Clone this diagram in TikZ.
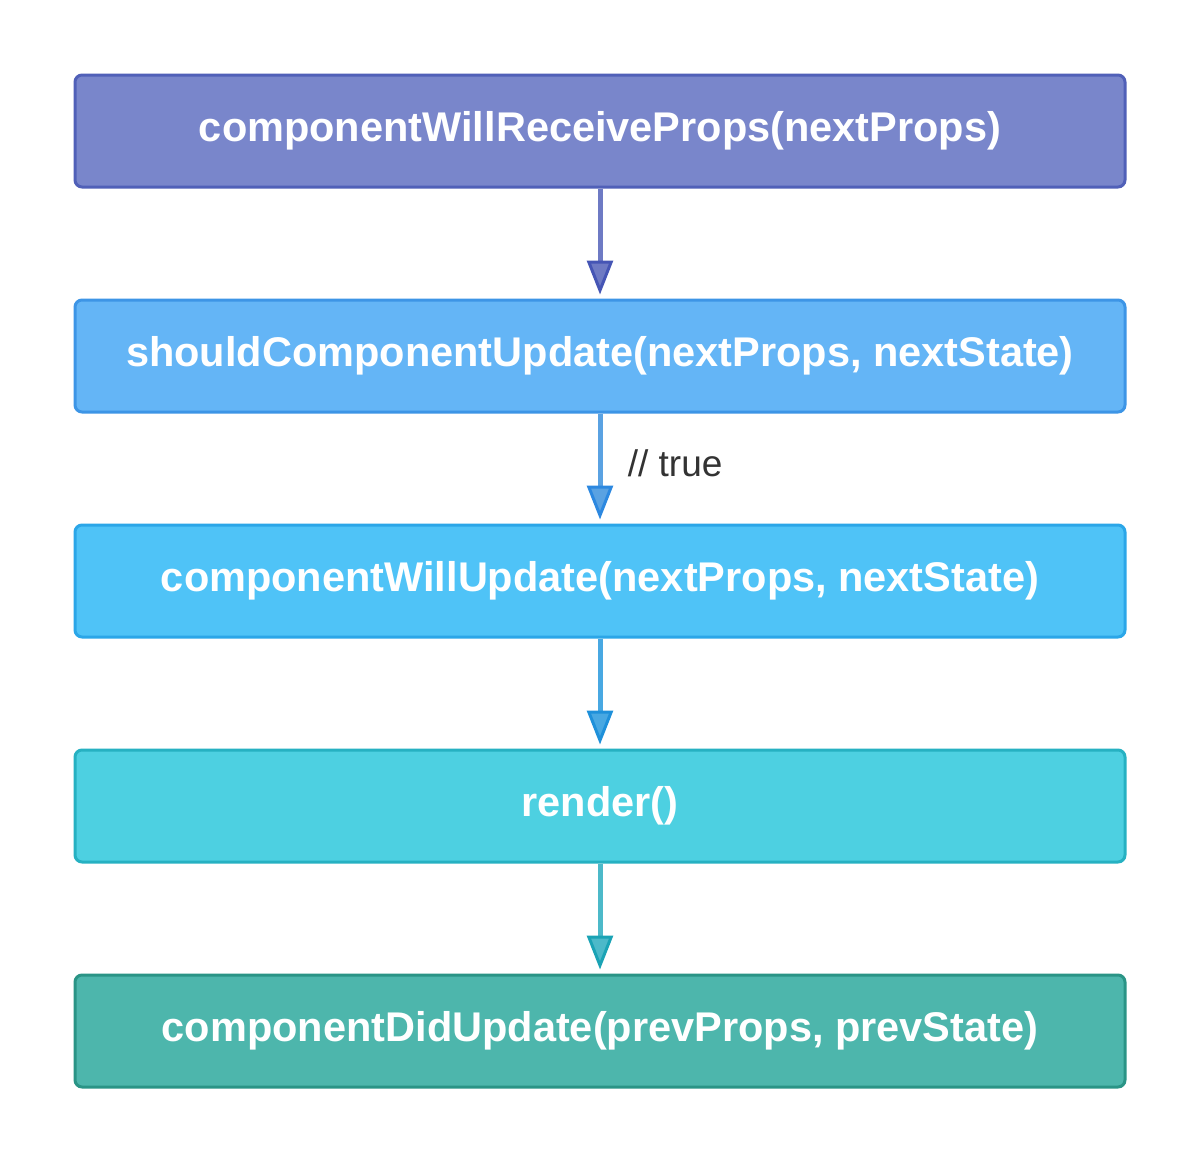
\documentclass[tikz,border=0pt]{standalone}
\usepackage{fontspec}
\setmainfont{Liberation Sans}
\usetikzlibrary{arrows.meta}
\definecolor{fA}{HTML}{7986CB}\definecolor{bA}{HTML}{5060B8}\definecolor{aA}{HTML}{6E7AC4}\definecolor{hA}{HTML}{4555B5}
\definecolor{fB}{HTML}{64B5F6}\definecolor{bB}{HTML}{3D95E6}\definecolor{aB}{HTML}{5AA2E2}\definecolor{hB}{HTML}{2C88E0}
\definecolor{fC}{HTML}{4FC3F7}\definecolor{bC}{HTML}{2BA6E8}\definecolor{aC}{HTML}{48A8E2}\definecolor{hC}{HTML}{1E90DA}
\definecolor{fD}{HTML}{4DD0E1}\definecolor{bD}{HTML}{26B1C2}\definecolor{aD}{HTML}{4CB9C9}\definecolor{hD}{HTML}{1AA3B5}
\definecolor{fE}{HTML}{4DB6AC}\definecolor{bE}{HTML}{2A9486}
\definecolor{lbl}{HTML}{333333}
\tikzset{
  stage/.style={draw=#1, line width=3pt, rounded corners=7pt, minimum width=1050pt, minimum height=112pt,
    inner sep=0pt, text=white, font=\fontsize{41.5}{46}\selectfont\bfseries},
  flow/.style 2 args={draw=#1, line width=5pt, shorten >=4pt,
    -{Triangle[width=26pt,length=34pt,line width=3pt,color=#2,fill=#1]}},
  note/.style={text=lbl, font=\fontsize{37}{42}\selectfont, anchor=west}
}
\begin{document}
\begin{tikzpicture}[x=1pt,y=1pt]
\useasboundingbox (0,0) rectangle (1200,-1163);
\fill[white] (0,0) rectangle (1200,-1163);
\node[stage=bA, fill=fA] (n1) at (600,-131) {\raisebox{3pt}{componentWillReceiveProps(nextProps)}};
\node[stage=bB, fill=fB] (n2) at (600,-356) {\raisebox{3pt}{shouldComponentUpdate(nextProps, nextState)}};
\node[stage=bC, fill=fC] (n3) at (600,-581) {\raisebox{3pt}{componentWillUpdate(nextProps, nextState)}};
\node[stage=bD, fill=fD] (n4) at (600,-806) {\raisebox{3pt}{render()}};
\node[stage=bE, fill=fE] (n5) at (600,-1031) {\raisebox{3pt}{componentDidUpdate(prevProps, prevState)}};
\draw[flow={aA}{hA}] (n1) -- (n2);
\draw[flow={aB}{hB}] (n2) -- node[note, pos=0.45, xshift=22pt] (t) {// true} (n3);
\draw[flow={aC}{hC}] (n3) -- (n4);
\draw[flow={aD}{hD}] (n4) -- (n5);
\end{tikzpicture}
\end{document}
